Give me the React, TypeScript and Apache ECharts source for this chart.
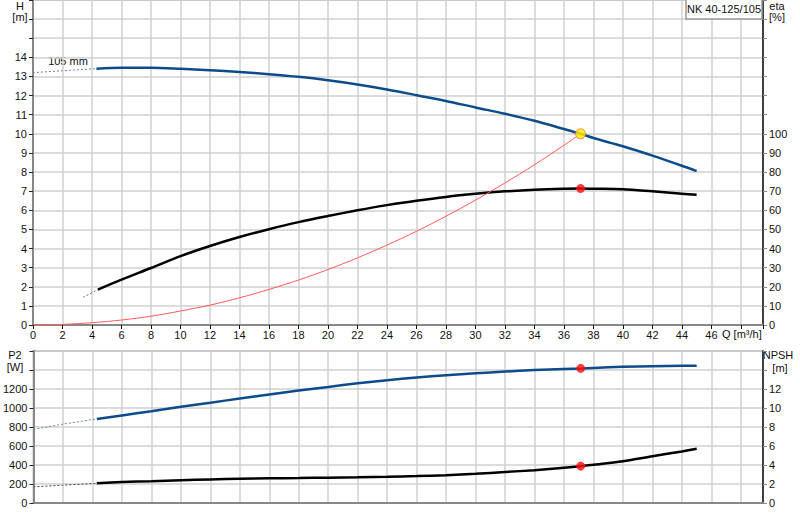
import { useEffect, useRef } from 'react';
import * as echarts from 'echarts';

// flow Q [m³/h] and curve values
const qHead = [4.3, 6, 8, 10, 12, 14, 16, 18, 20, 22, 24, 26, 28, 30, 32, 34, 36, 37.13, 38, 40, 42, 44, 45];
const head = [13.41, 13.45, 13.45, 13.4, 13.33, 13.24, 13.12, 12.98, 12.8, 12.58, 12.32, 12.02, 11.72, 11.38, 11.05, 10.68, 10.25, 10.0, 9.78, 9.35, 8.86, 8.33, 8.05];
const qHeadExt = [0, 2, 4.3];
const headExt = [13.2, 13.3, 13.41];

const qEta = [4.4, 6, 8, 10, 12, 14, 16, 18, 20, 22, 24, 26, 28, 30, 32, 34, 36, 37.13, 38, 40, 42, 44, 45];
const eta = [18.5, 23.7, 29.8, 36, 41.3, 46, 50.1, 53.8, 57, 60, 62.7, 65, 67, 68.6, 69.9, 70.8, 71.3, 71.4, 71.3, 71, 69.9, 68.7, 68.1];
const qEtaExt = [3.4, 4.4];
const etaExt = [14.5, 18.5];

const qSystem = [0, 2, 4, 6, 8, 10, 12, 14, 16, 18, 20, 22, 24, 26, 28, 30, 32, 34, 36, 37.13];
const system = [0, 0.03, 0.12, 0.26, 0.46, 0.73, 1.04, 1.42, 1.86, 2.35, 2.9, 3.51, 4.18, 4.9, 5.69, 6.53, 7.43, 8.38, 9.4, 10];

const qLower = [4.3, 6, 8, 10, 12, 14, 16, 18, 20, 22, 24, 26, 28, 30, 32, 34, 36, 37.13, 38, 40, 42, 44, 45];
const p2 = [885, 922, 966, 1012, 1055, 1100, 1143, 1185, 1222, 1260, 1293, 1322, 1346, 1365, 1383, 1399, 1411, 1417, 1422, 1433, 1440, 1445, 1446];
const npsh = [2.07, 2.2, 2.3, 2.4, 2.48, 2.55, 2.6, 2.63, 2.67, 2.71, 2.76, 2.83, 2.93, 3.08, 3.26, 3.46, 3.72, 3.88, 4.02, 4.4, 4.92, 5.43, 5.7];
const qLowerExt = [0, 2, 4.3];
const p2Ext = [775, 830, 885];
const npshExt = [1.7, 1.88, 2.07];

const dutyQ = 37.13;
const dutyHead = 10;
const dutyEta = 71.4;
const dutyP2 = 1417;
const dutyNpsh = 3.88;

const pumpName = 'NK 40-125/105';
const impeller = '105 mm';

const zip = (xs: number[], ys: number[]) => xs.map((x, i) => [x, ys[i]]);

const FONT = 'Liberation Sans, Arial, sans-serif';
const BLUE = '#0d4c8b';
const GRID = '#d0d0d0';

function yAxis(grid: number, pos: 'left' | 'right', max: number, step: number, lastLabel: number, lineColor: string, grid2: boolean): any {
  return {
    type: 'value',
    gridIndex: grid,
    position: pos,
    min: 0,
    max,
    interval: step,
    axisLine: { show: true, lineStyle: { color: lineColor, width: pos === 'left' ? 2 : 1.5 } },
    axisTick: { show: true, length: 4, lineStyle: { color: pos === 'left' ? '#222' : '#888' } },
    axisLabel: {
      margin: 6,
      fontSize: 11,
      fontFamily: FONT,
      color: '#111',
      formatter: (v: number) => (v <= lastLabel ? String(v) : ''),
    },
    splitLine: { show: grid2, lineStyle: { color: GRID, width: 1.5 } },
  };
}

function xAxis(grid: number, labels: boolean): any {
  return {
    type: 'value',
    gridIndex: grid,
    min: 0,
    max: 49.5,
    interval: 2,
    axisLine: { show: true, onZero: false, lineStyle: { color: '#888', width: 2 } },
    axisTick: { show: labels, length: 4, lineStyle: { color: '#111' } },
    axisLabel: {
      show: labels,
      margin: 4,
      fontSize: 11,
      fontFamily: FONT,
      color: '#111',
      formatter: (v: number) => (v <= 46 ? String(v) : ''),
    },
    splitLine: { show: true, lineStyle: { color: GRID, width: 1.5 } },
  };
}

function curve(data: number[][], xi: number, yi: number, color: string, width: number, dashed = false): any {
  return {
    type: 'line',
    xAxisIndex: xi,
    yAxisIndex: yi,
    data,
    smooth: 0.3,
    showSymbol: false,
    silent: true,
    lineStyle: { color, width, type: dashed ? [2, 2] : 'solid' },
    z: dashed ? 2 : 3,
  };
}

function point(x: number, y: number, xi: number, yi: number, fill: string, border: string, size: number): any {
  return {
    type: 'scatter',
    xAxisIndex: xi,
    yAxisIndex: yi,
    data: [[x, y]],
    symbolSize: size,
    itemStyle: { color: fill, borderColor: border, borderWidth: 1 },
    z: 5,
  };
}

function label(text: string, x: number, y: number, align = 'center'): any {
  return {
    type: 'text',
    x,
    y,
    style: { text, fill: '#111', font: `11px ${FONT}`, textAlign: align, textVerticalAlign: 'middle' },
  };
}

export default function App() {
  const ref = useRef<HTMLDivElement>(null);

  useEffect(() => {
    if (!ref.current) return;
    const chart = echarts.init(ref.current, null, { renderer: 'svg' });
    chart.setOption({
      animation: false,
      backgroundColor: '#fff',
      grid: [
        { left: 33, right: 37, top: 0, height: 325, show: true, borderColor: '#999', borderWidth: 1.5 },
        { left: 33, right: 37, top: 351, height: 152, show: true, borderColor: '#999', borderWidth: 1.5 },
      ],
      xAxis: [xAxis(0, true), xAxis(1, false)],
      yAxis: [
        yAxis(0, 'left', 17, 1, 14, '#888', true),
        yAxis(0, 'right', 170, 10, 100, '#111', false),
        yAxis(1, 'left', 1600, 200, 1200, '#888', true),
        yAxis(1, 'right', 16, 2, 12, '#111', false),
      ],
      series: [
        curve(zip(qHeadExt, headExt), 0, 0, '#6a86a8', 1, true),
        curve(zip(qHead, head), 0, 0, BLUE, 2.5),
        curve(zip(qEtaExt, etaExt), 0, 1, '#666', 1, true),
        curve(zip(qEta, eta), 0, 1, '#000', 2.5),
        curve(zip(qSystem, system), 0, 0, '#ff5a5a', 1),
        point(dutyQ, dutyHead, 0, 0, '#ffee00', '#f07020', 10),
        point(dutyQ, dutyEta, 0, 1, '#ff1010', '#ff1010', 8),
        curve(zip(qLowerExt, p2Ext), 1, 2, '#6a86a8', 1, true),
        curve(zip(qLower, p2), 1, 2, BLUE, 2.5),
        curve(zip(qLowerExt, npshExt), 1, 3, '#444', 1, true),
        curve(zip(qLower, npsh), 1, 3, '#000', 2.5),
        point(dutyQ, dutyP2, 1, 2, '#ff1010', '#ff1010', 8),
        point(dutyQ, dutyNpsh, 1, 3, '#ff1010', '#ff1010', 8),
      ],
      graphic: [
        label('H', 20, 6),
        label('[m]', 20, 17),
        label('eta', 777, 6),
        label('[%]', 777, 17),
        label('P2', 15, 355),
        label('[W]', 15, 367),
        label('NPSH', 778, 355),
        label('[m]', 780, 368),
        label('Q [m³/h]', 722, 334, 'left'),
        label(impeller, 68, 61),
        {
          type: 'rect',
          shape: { x: 686, y: -1, width: 76, height: 20 },
          style: { fill: '#fff', stroke: '#999', lineWidth: 1.5 },
          z: 10,
        },
        { ...label(pumpName, 724, 9), z: 11 },
      ],
    });
    return () => chart.dispose();
  }, []);

  return (
    <div
      ref={ref}
      style={{ position: 'absolute', left: 0, top: 0, width: 800, height: 520, background: '#fff' }}
    />
  );
}
